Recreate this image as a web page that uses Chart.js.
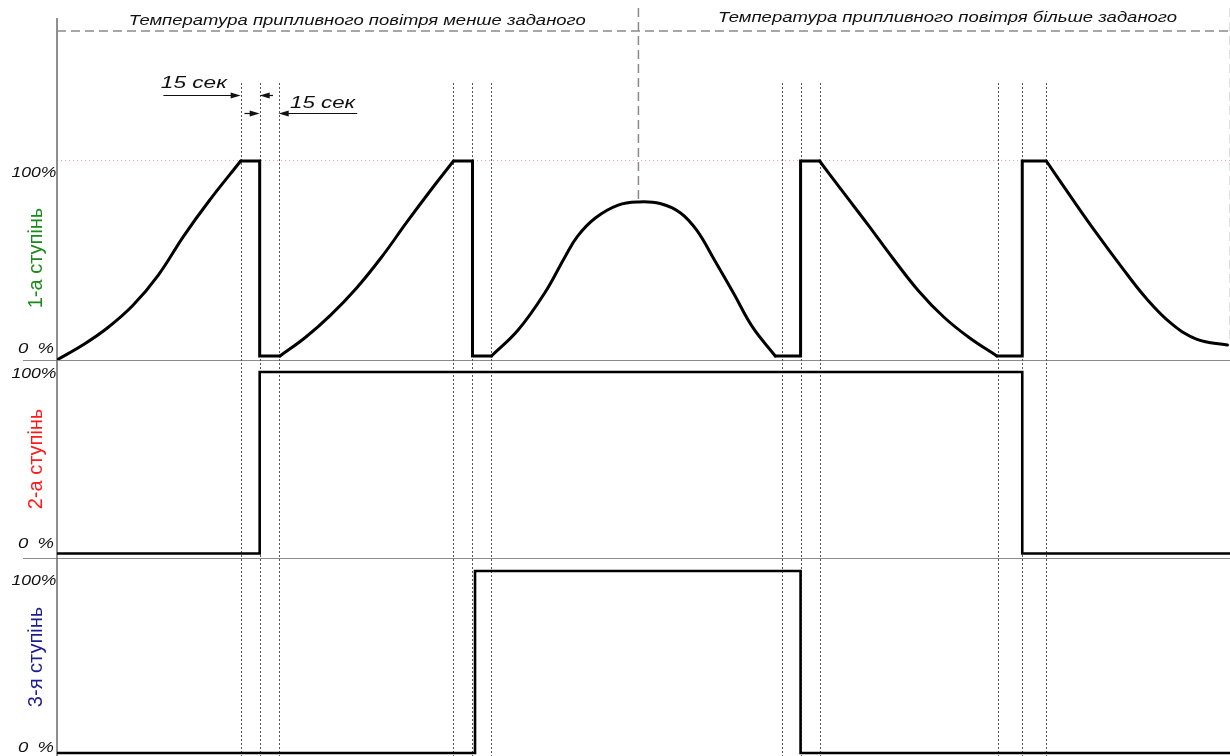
<!DOCTYPE html>
<html>
<head>
<meta charset="utf-8">
<title>Ступені нагріву</title>
<script src="https://cdn.jsdelivr.net/npm/chart.js@4.4.0/dist/chart.umd.min.js"></script>
<style>
    html, body { margin: 0; padding: 0; background: #fff; }
    canvas { display: block; }
</style>
</head>
<body>
<canvas id="myChart" width="1230" height="756"></canvas>
<script>
// time axis, seconds
const timeEnd = 926;
// moments when the stages switch (dotted markers), seconds
const switchTimes = [145, 160, 175, 313, 328, 343, 572, 587, 602, 743, 762, 781];

// stage 1 output, [time s, %] - smooth parts
const stage1RiseA = [[0, -2], [20, 5.5], [40, 14.5], [60, 26], [80, 41.5], [100, 61.5], [120, 79.5], [145, 100]];
const stage1RiseB = [[176, 0], [196, 9.5], [216, 21], [236, 34.5], [256, 50.5], [276, 68.5], [295, 85], [313, 100]];
const stage1Hump = [[343, 0], [364, 13.3], [385, 32.3], [401, 50.8], [411, 61.5], [425, 70.8], [443, 77.4], [459, 79],
    [476, 78.2], [492, 73.5], [505, 64.5], [519, 49.2], [534, 32.3], [549, 14.9], [567, 0]];
const stage1FallA = [[602, 100], [620, 84.5], [640, 67.5], [660, 50], [680, 33.5], [700, 20], [720, 9.5], [742, 0]];
const stage1FallB = [[781, 100], [800, 82], [820, 63.5], [840, 46], [860, 29.5], [880, 16.5], [900, 8.5], [924, 5.6]];
// stage 1 holds and jumps between the smooth parts
const stage1Holds = [
    [[145, 100], [160, 100], [160, 0], [176, 0]],
    [[313, 100], [328, 100], [328, 0], [343, 0]],
    [[567, 0], [587, 0], [587, 100], [602, 100]],
    [[742, 0], [762, 0], [762, 100], [781, 100]]
];
// stages 2 and 3 are on/off
const stage2 = [[0, 0], [160, 0], [160, 100], [762, 100], [762, 0], [926, 0]];
const stage3 = [[0, 0], [330, 0], [330, 100], [587, 100], [587, 0], [926, 0]];

const stageNames = ['1-а ступінь', '2-а ступінь', '3-я ступінь'];
const stageColors = ['#1b8a1b', '#ff1a1a', '#1d1d8f'];
const tickLabels = ['0\u2002%', '100%'];
const zoneTitles = ['Температура припливного повітря менше заданого', 'Температура припливного повітря більше заданого'];
const intervalLabel = '15 сек';

const sansItalic = size => 'italic ' + size + 'px "Liberation Sans", Arimo, Arial, sans-serif';

// baseline shift of the "0 %" / "100%" labels for each panel
const tickNudge = { y1: [-3, 16], y2: [-5, 6], y3: [-1, 14] };

function lineSet(points, axis, width, smooth) {
    return {
        data: points.map(p => ({ x: p[0], y: p[1] })),
        yAxisID: axis,
        borderColor: '#000',
        borderWidth: width,
        pointRadius: 0,
        tension: smooth ? 0.4 : 0,
        borderCapStyle: 'round',
        borderJoinStyle: smooth ? 'round' : 'miter',
        fill: false
    };
}

function fitText(ctx, text, x, y, width, align) {
    let w = ctx.measureText(text).width;
    ctx.save();
    ctx.translate(x, y);
    ctx.scale(width / w, 1);
    ctx.textAlign = align;
    ctx.fillText(text, 0, 0);
    ctx.restore();
}

function seg(ctx, x1, y1, x2, y2) {
    ctx.beginPath();
    ctx.moveTo(x1, y1);
    ctx.lineTo(x2, y2);
    ctx.stroke();
}

function arrow(ctx, from, to, y) {
    let dir = to > from ? 1 : -1;
    ctx.setLineDash([]);
    seg(ctx, from, y, to - dir * 6, y);
    ctx.beginPath();
    ctx.moveTo(to, y);
    ctx.lineTo(to - dir * 10, y - 3);
    ctx.lineTo(to - dir * 10, y + 3);
    ctx.closePath();
    ctx.fill();
}

function panelAxis(name, color, min, max, weight, size) {
    return {
        type: 'linear',
        position: 'left',
        stack: 'stages',
        stackWeight: size,
        weight: weight,
        min: min,
        max: max,
        afterBuildTicks: s => { s.ticks = [{ value: 0 }, { value: 100 }]; },
        afterFit: s => { s.width = 57; },
        ticks: { display: false },
        grid: { display: false },
        border: { display: false },
        title: {
            display: true,
            text: name,
            color: color,
            font: { family: '"Liberation Sans", Arimo, Arial, sans-serif', size: 20 },
            padding: { top: 24, bottom: 0 }
        }
    };
}

const timingMarks = {
    id: 'timingMarks',
    beforeDatasetsDraw(chart) {
        const { ctx, chartArea, scales } = chart;
        const x = scales.x, y1 = scales.y1, y2 = scales.y2;
        ctx.save();

        // panel separators and the time axis line
        ctx.strokeStyle = '#8a8a8a';
        ctx.lineWidth = 1.2;
        seg(ctx, 23, Math.round(y1.bottom) + 0.5, chartArea.right, Math.round(y1.bottom) + 0.5);
        seg(ctx, 23, Math.round(y2.bottom) + 0.5, chartArea.right, Math.round(y2.bottom) + 0.5);
        ctx.strokeStyle = '#6a6a6a';
        ctx.lineWidth = 1.5;
        seg(ctx, chartArea.left, 18, chartArea.left, chartArea.bottom);

        // switch moments
        ctx.strokeStyle = '#555';
        ctx.lineWidth = 1;
        ctx.setLineDash([2, 2]);
        switchTimes.forEach(t => {
            let px = Math.round(x.getPixelForValue(t)) + 0.5;
            seg(ctx, px, 83, px, chartArea.bottom);
        });

        // zone borders: supply air below / above the set point
        ctx.strokeStyle = '#8a8a8a';
        ctx.lineWidth = 1.5;
        ctx.setLineDash([9, 5]);
        seg(ctx, chartArea.left, 31, chartArea.right, 31);
        let peak = stage1Hump.reduce((a, b) => (b[1] > a[1] ? b : a));
        let px = x.getPixelForValue(peak[0]);
        seg(ctx, px, 8, px, y1.getPixelForValue(peak[1]));
        let last = stage1FallB[stage1FallB.length - 1];
        px = x.getPixelForValue(last[0]) + 3;
        seg(ctx, px, 8, px, y1.getPixelForValue(last[1]));
        ctx.restore();
    },
    afterDraw(chart) {
        const { ctx, scales } = chart;
        const x = scales.x;
        ctx.save();
        ctx.fillStyle = '#111';
        ctx.strokeStyle = '#111';
        ctx.textBaseline = 'alphabetic';

        // 0 % / 100% labels of every panel
        ctx.font = sansItalic(15);
        ['y1', 'y2', 'y3'].forEach(id => {
            let s = scales[id];
            fitText(ctx, tickLabels[0], 54, s.getPixelForValue(0) + tickNudge[id][0], 36, 'right');
            fitText(ctx, tickLabels[1], 56.5, s.getPixelForValue(100) + tickNudge[id][1], 45, 'right');
        });

        // zone titles
        ctx.font = sansItalic(15);
        fitText(ctx, zoneTitles[0], x.getPixelForValue(237), 25, 457, 'center');
        fitText(ctx, zoneTitles[1], x.getPixelForValue(703), 22, 459, 'center');

        // 15 s intervals
        ctx.font = sansItalic(17);
        fitText(ctx, intervalLabel, x.getPixelForValue(82), 88, 66, 'left');
        fitText(ctx, intervalLabel, x.getPixelForValue(184), 108, 65, 'left');
        ctx.lineWidth = 1.2;
        arrow(ctx, x.getPixelForValue(84), x.getPixelForValue(145), 95.5);
        arrow(ctx, x.getPixelForValue(170.5), x.getPixelForValue(160), 95.5);
        arrow(ctx, x.getPixelForValue(148), x.getPixelForValue(160), 113.5);
        arrow(ctx, x.getPixelForValue(237), x.getPixelForValue(175), 113.5);
        ctx.restore();
    }
};

let datasets = [];
[stage1RiseA, stage1RiseB, stage1Hump, stage1FallA, stage1FallB].forEach(p => datasets.push(lineSet(p, 'y1', 3, true)));
stage1Holds.forEach(p => datasets.push(lineSet(p, 'y1', 3, false)));
datasets.push(lineSet(stage2, 'y2', 2.6, false));
datasets.push(lineSet(stage3, 'y3', 2.6, false));

const axis1 = panelAxis(stageNames[0], stageColors[0], -2.05, 102.56, 3, 204);
// dotted 100 % level in the first panel
axis1.grid = {
    display: true,
    drawTicks: false,
    lineWidth: 1,
    color: c => (c.tick && c.tick.value === 100 ? '#eea4a4' : 'rgba(0,0,0,0)')
};
axis1.border = { display: false, dash: [1, 3] };

new Chart(document.getElementById('myChart'), {
    type: 'line',
    data: { datasets: datasets },
    options: {
        responsive: false,
        animation: false,
        layout: { padding: { top: 156, left: 0, right: 0, bottom: 0 } },
        plugins: {
            legend: { display: false },
            tooltip: { enabled: false }
        },
        scales: {
            x: { type: 'linear', min: 0, max: timeEnd, display: false },
            y1: axis1,
            y2: panelAxis(stageNames[1], stageColors[1], -2.48, 106.6, 2, 198),
            y3: panelAxis(stageNames[2], stageColors[2], -1.65, 107.14, 1, 198)
        }
    },
    plugins: [timingMarks]
});
</script>
</body>
</html>
